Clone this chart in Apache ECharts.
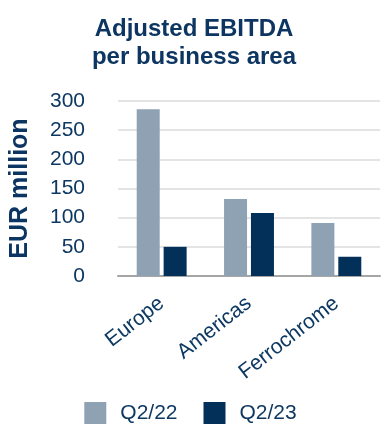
<!DOCTYPE html>
<html><head><meta charset="utf-8">
<script src="https://cdn.jsdelivr.net/npm/echarts@6/dist/echarts.min.js"></script>
<style>html,body{margin:0;padding:0;background:#fff}#c{width:381px;height:430px}</style>
</head><body><div id="c"></div>
<script>
const categories = ['Europe', 'Americas', 'Ferrochrome'];
const seriesNames = ['Q2/22', 'Q2/23'];
const q222 = [286, 132, 91];
const q223 = [50, 108, 33];
const yTicks = { min: 0, max: 300, interval: 50 };

const navyText = '#0d3862';
const chart = echarts.init(document.getElementById('c'), null, { renderer: 'canvas' });
chart.setOption({
  animation: false,
  textStyle: { fontFamily: 'Liberation Sans, Arial, sans-serif' },
  title: {
    text: 'Adjusted EBITDA\nper business area',
    left: 189, top: 10, textAlign: 'center',
    textStyle: { fontSize: 24, fontWeight: 'bold', color: '#0d3561', lineHeight: 28, fontFamily: 'Liberation Sans, Arial, sans-serif' }
  },
  legend: {
    data: seriesNames,
    bottom: 1, left: 'center',
    itemWidth: 22, itemHeight: 22, itemGap: 26,
    icon: 'rect',
    textStyle: { fontSize: 21, color: navyText, padding: [0, 0, 0, 9] }
  },
  grid: { left: 118, right: 1, top: 101, bottom: 154, containLabel: false, outerBoundsMode: 'none' },
  xAxis: {
    type: 'category', data: categories,
    axisLine: { lineStyle: { color: '#a6a6a6', width: 2 } },
    axisTick: { show: false },
    axisLabel: { rotate: 38, fontSize: 21, color: navyText, margin: 25, interval: 0 }
  },
  yAxis: {
    type: 'value', min: yTicks.min, max: yTicks.max, interval: yTicks.interval,
    name: 'EUR million', nameLocation: 'middle', nameGap: 85,
    nameTextStyle: { fontSize: 25, fontWeight: 'bold', color: '#0d3561' },
    axisLabel: { fontSize: 21, color: navyText, margin: 33 },
    splitLine: { lineStyle: { color: '#e4e4e4', width: 2 } },
    axisLine: { show: false }, axisTick: { show: false }
  },
  series: [
    { name: seriesNames[0], type: 'bar', data: q222, barWidth: 23, barGap: '17%', itemStyle: { color: '#8ea2b4' } },
    { name: seriesNames[1], type: 'bar', data: q223, barWidth: 23, itemStyle: { color: '#033058' } }
  ]
});
</script></body></html>
